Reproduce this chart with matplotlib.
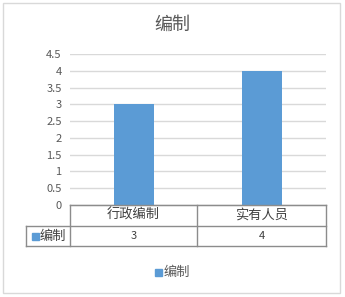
import matplotlib
matplotlib.use('Agg')
import matplotlib.pyplot as plt
from matplotlib.lines import Line2D
from matplotlib.patches import Rectangle

plt.rcParams['font.family'] = ['Noto Sans CJK SC', 'DejaVu Sans']

# data
categories = ['行政编制', '实有人员']
values = [3, 4]
series_name = '编制'
yticks = [0, 0.5, 1, 1.5, 2, 2.5, 3, 3.5, 4, 4.5]

bar_color = '#5B9BD5'
text_color = '#595959'
grid_color = '#D9D9D9'
table_color = '#8C8C8C'

W, H = 345, 297
fig = plt.figure(figsize=(W / 100, H / 100), dpi=100)

def fx(px):
    return px / W

def fy(py):
    return 1 - py / H

# plot area: left 70, right 326, top (4.5) 54, bottom (0) 205
ax = fig.add_axes([fx(70), fy(205), fx(326) - fx(70), fy(54) - fy(205)])
x = list(range(len(categories)))
ax.bar(x, values, width=0.31, color=bar_color, zorder=3)
ax.set_xlim(-0.5, len(categories) - 0.5)
ax.set_ylim(0, 4.5)
ax.set_yticks(yticks)
ax.set_yticklabels(['%g' % t for t in yticks], fontsize=8, color=text_color)
ax.yaxis.grid(True, color=grid_color, linewidth=1)
ax.tick_params(axis='y', length=0, pad=6)
ax.set_xticks([])
for s in ['top', 'right', 'left']:
    ax.spines[s].set_visible(False)
ax.spines['bottom'].set_color(table_color)

# title
fig.text(fx(172), fy(25), '编制', ha='center', va='center', fontsize=13, color=text_color)

# data table
row_top, row_mid, row_bot = 205, 226, 246
left, mid, right, key_left = 70, 197, 326, 26
lines = [
    ([left, right], [row_top, row_top]),
    ([key_left, right], [row_mid, row_mid]),
    ([key_left, right], [row_bot, row_bot]),
    ([left, left], [row_top, row_bot]),
    ([mid, mid], [row_top, row_bot]),
    ([right, right], [row_top, row_bot]),
    ([key_left, key_left], [row_mid, row_bot]),
]
for xs, ys in lines:
    fig.add_artist(Line2D([fx(v) for v in xs], [fy(v) for v in ys],
                          color=table_color, linewidth=1))
cell_centers = [(left + mid) / 2, (mid + right) / 2]
for c, cat, v in zip(cell_centers, categories, values):
    fig.text(fx(c), fy((row_top + row_mid) / 2), cat, ha='center', va='center',
             fontsize=9.5, color='#404040')
    fig.text(fx(c), fy((row_mid + row_bot) / 2), '%g' % v, ha='center', va='center',
             fontsize=8, color='#404040')
fig.add_artist(Rectangle((fx(32), fy(240)), fx(7), fy(233) - fy(240),
                         transform=fig.transFigure, color=bar_color))
fig.text(fx(40), fy((row_mid + row_bot) / 2), series_name, ha='left', va='center',
         fontsize=9.5, color='#404040')

# legend
fig.add_artist(Rectangle((fx(155), fy(276)), fx(7), fy(269) - fy(276),
                         transform=fig.transFigure, color=bar_color))
fig.text(fx(164), fy(272), series_name, ha='left', va='center', fontsize=9.5, color=text_color)

# outer border
fig.add_artist(Rectangle((fx(3), fy(293)), fx(337), fy(3) - fy(293),
                         transform=fig.transFigure, fill=False, edgecolor=grid_color, linewidth=1))

fig.savefig('out.png', dpi=100)
